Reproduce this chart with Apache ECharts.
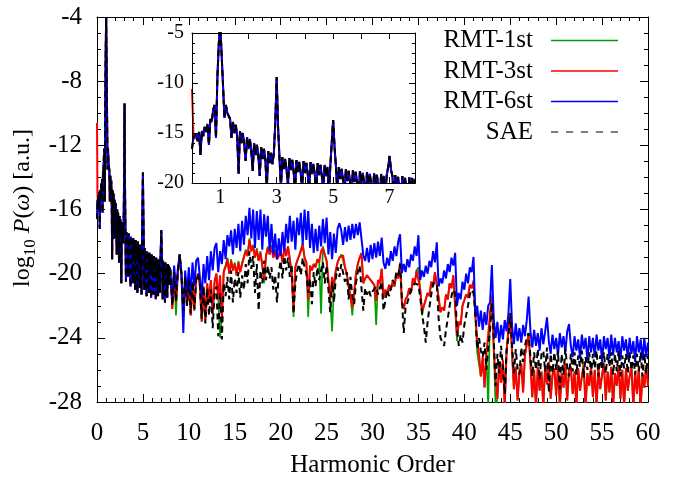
<!DOCTYPE html>
<html><head><meta charset="utf-8">
<script src="https://cdn.jsdelivr.net/npm/echarts@6/dist/echarts.min.js"></script>
<style>html,body{margin:0;padding:0;background:#fff}#c{width:678px;height:483px}</style>
</head><body><div id="c"></div>
<script>
const FONT = "'Liberation Serif','Times New Roman',serif";
const seriesNames = ['RMT-1st', 'RMT-3st', 'RMT-6st', 'SAE'];
const seriesColors = ['#00a000', '#ff0000', '#0000ff', '#000000'];
const yTitle = '{n|log}{s|10}{n| }{i|P}{n|(}{i|ω}{n|) [a.u.]}';

// Low harmonic orders 0 .. 7.9 (step 0.05): curves overlap for all calculations
const lowOrderAll = [
-16.6,-15.4,-15.6,-15.1,-15.8,-14.9,-17.2,-14.8,-15.3,-14.4,
-14.9,-14.1,-16.2,-13.6,-13.9,-12.7,-12.2,-15.5,-9.4,-6.0,
-4.0,-7.2,-10.3,-13.5,-12.2,-13.0,-12.9,-13.6,-15.5,
-13.9,-15.0,-14.2,-15.3,-19.1,
-14.8,-16.0,-15.0,-16.2,-17.8,
-15.4,-16.6,-15.6,-16.8,-18.8,
-16.0,-17.2,-16.2,-17.3,-19.3,
-16.4,-17.6,-16.6,-17.7,-20.6,
-16.8,-18.0,-17.0,-18.1,-17.0,
-14.0,-9.4,-14.5,-17.5,-20.5,
-17.4,-18.6,-17.6,-18.7,-20.2,
-17.5,-18.7,-17.7,-18.8,-20.8,
-17.7,-18.9,-17.9,-19.0,-20.6,
-17.8,-19.0,-18.0,-19.1,-21.0,
-17.9,-19.1,-18.1,-19.2,-21.2,
-18.0,-19.2,-18.2,-19.3,-20.9,
-18.2,-19.3,-18.4,-21.3,-18.3,
-16.0,-13.7,-16.4,-18.4,-21.0,
-18.4,-19.6,-18.6,-19.7,-21.4,
-18.6,-19.8,-18.8,-19.9,-21.2,
-18.7,-19.9,-18.9,-20.0,-21.5,
-18.8,-20.0,-19.0,-20.1,-21.3,
-18.9,-20.1,-19.1,-20.2,-21.6,
-19.0,-20.2,-19.2,-20.3,-21.4,
-19.1,-20.2,-19.3,-21.2,-19.2,
-18.4,-17.3,-18.7,-19.3,-21.6,
-19.2,-20.4,-19.4,-20.5,-21.8,
-19.3,-20.5,-19.5,-20.6,-21.5,
-19.4,-20.6,-19.5,-20.7,-19.6
];
// RMT-3st differs only at the very start
const lowOrderRMT3Start = [-10.6, -15.0];

// Harmonic orders 8.0 .. 60.0 (step 0.2)
const tailRMT1 = [
-19.8,-22.2,-19.9,-22.6,-20.0,-18.8,-20.1,-22.5,-20.2,-22.0,
-20.4,-22.6,-20.5,-22.3,-20.4,-20.0,-20.7,-23.0,-20.8,-22.9,
-20.6,-21.8,-20.4,-22.5,-20.5,-20.0,-21.6,-24.0,-22.8,-19.8,
-19.5,-19.0,-20.0,-19.1,-19.8,-19.3,-20.1,-19.2,-19.9,-19.3,
-19.3,-18.5,-18.9,-17.8,-18.6,-18.2,-19.0,-18.4,-19.2,-18.6,
-19.5,-20.6,-18.9,-18.3,-18.8,-18.2,-19.0,-18.5,-19.1,-18.8,
-18.6,-19.3,-18.4,-18.9,-18.3,-19.1,-20.0,-22.7,-19.6,-19.2,
-18.9,-18.5,-18.1,-19.0,-19.3,-22.7,-19.5,-19.8,-19.4,-19.6,
-19.1,-19.3,-22.5,-18.3,-18.8,-19.2,-20.4,-21.6,-23.6,-20.8,
-19.8,-19.3,-19.0,-18.8,-18.75,-19.6,-20.0,-20.8,-21.4,-22.6,
-21.2,-20.0,-19.4,-19.0,-18.7,-20.6,-20.3,-20.1,-20.2,-20.4,
-20.3,-20.7,-23.2,-20.4,-20.6,-19.7,-21.5,-21.0,-21.3,-20.7,
-21.0,-20.5,-20.8,-20.0,-20.3,-19.3,-21.8,-22.2,-21.6,-21.4,
-20.9,-21.2,-20.3,-20.6,-19.8,-19.6,-21.0,-22.6,-22.0,-22.1,
-21.2,-21.4,-20.5,-20.8,-19.9,-19.8,-21.5,-22.4,-22.1,-22.3,
-21.3,-21.6,-20.6,-20.9,-20.1,-20.0,-24.2,-23.0,-23.2,-22.0,
-22.1,-21.3,-21.5,-20.7,-20.9,-20.4,-22.5,-24.9,-25.0,-26.4,
-25.2,-27.1,-25.0,-28.3,-22.5,-21.3,-24.6,-28.3,-27.8,-25.5,
-26.8,-25.4,-28.3,-24.8,-23.5,-22.5,-25.0,-27.2,-25.8,-27.9,
-26.2,-25.6,-27.4,-25.1,-24.4,-23.7,-25.6,-27.7,-26.0,-28.3,
-25.8,-27.3,-26.1,-28.3,-25.7,-26.9,-25.5,-27.8,-26.3,-25.9,
-27.6,-25.7,-28.3,-26.2,-27.1,-25.6,-27.9,-26.0,-25.8,-27.5,
-26.1,-28.3,-25.9,-27.3,-26.4,-25.7,-28.3,-26.2,-27.0,-25.8,
-27.7,-26.0,-28.3,-25.9,-27.2,-26.3,-25.6,-27.9,-26.1,-27.4,
-25.8,-28.3,-26.2,-27.0,-25.7,-27.8,-26.0,-28.3,-25.9,-27.3,
-26.4,-25.8,-28.3,-26.1,-27.5,-25.9,-28.3,-26.3,-27.1,-25.7,
-27.0
];
const tailRMT3 = [
-19.8,-22.2,-19.9,-21.8,-20.0,-18.8,-20.1,-22.5,-20.2,-22.0,
-20.4,-22.6,-20.5,-22.3,-20.4,-20.0,-20.7,-23.0,-20.8,-22.9,
-20.6,-21.8,-20.4,-22.5,-20.5,-20.0,-21.6,-20.1,-22.8,-19.9,
-19.6,-19.1,-20.0,-19.2,-19.8,-19.4,-20.1,-19.3,-19.9,-19.4,
-19.3,-18.6,-18.9,-17.9,-18.6,-18.3,-19.0,-18.5,-19.2,-18.7,
-19.5,-20.4,-18.9,-18.4,-18.8,-18.3,-19.0,-18.6,-19.1,-18.9,
-18.6,-19.3,-18.4,-18.9,-18.3,-19.1,-20.0,-22.3,-19.6,-19.2,
-18.9,-18.6,-18.2,-19.0,-19.3,-21.6,-19.5,-19.8,-19.4,-19.6,
-19.1,-19.3,-18.6,-18.4,-18.8,-19.2,-20.4,-21.6,-20.2,-20.8,
-19.8,-19.3,-19.0,-18.9,-18.85,-19.6,-20.0,-20.8,-21.4,-22.1,
-21.2,-20.0,-19.4,-19.0,-18.75,-20.6,-20.3,-20.1,-20.2,-20.4,
-20.3,-20.7,-21.7,-20.4,-20.6,-19.7,-21.5,-21.0,-21.3,-20.7,
-21.0,-20.5,-20.8,-20.0,-20.3,-19.36,-21.8,-22.2,-21.6,-21.4,
-20.9,-21.2,-20.3,-20.6,-19.8,-19.7,-21.0,-22.3,-22.0,-22.1,
-21.2,-21.4,-20.5,-20.8,-19.9,-19.86,-21.5,-22.4,-22.1,-22.3,
-21.3,-21.6,-20.6,-20.9,-20.1,-20.05,-23.9,-23.0,-23.2,-22.0,
-22.1,-21.3,-21.5,-20.7,-20.9,-20.5,-22.5,-24.2,-25.0,-26.4,
-25.2,-27.1,-25.0,-23.8,-22.5,-21.5,-24.6,-26.5,-27.8,-25.5,
-26.8,-25.4,-28.3,-24.8,-23.5,-22.6,-25.0,-27.2,-25.8,-27.9,
-26.2,-25.6,-27.4,-25.1,-24.4,-23.8,-25.6,-27.7,-26.0,-28.3,
-25.8,-27.3,-26.1,-28.3,-25.7,-26.9,-25.5,-27.8,-26.3,-25.9,
-27.6,-25.7,-28.3,-26.2,-27.1,-25.6,-27.9,-26.0,-25.8,-27.5,
-26.1,-28.3,-25.9,-27.3,-26.4,-25.7,-28.3,-26.2,-27.0,-25.8,
-27.7,-26.0,-28.3,-25.9,-27.2,-26.3,-25.6,-27.9,-26.1,-27.4,
-25.8,-28.3,-26.2,-27.0,-25.7,-27.8,-26.0,-28.3,-25.9,-27.3,
-26.4,-25.8,-28.3,-26.1,-27.5,-25.9,-28.3,-26.3,-27.1,-25.7,
-27.0
];
const tailRMT6 = [
-19.6,-21.6,-19.5,-21.0,-19.7,-18.8,-20.0,-23.7,-19.8,-21.2,
-19.6,-21.4,-19.3,-20.8,-19.2,-19.0,-20.2,-21.5,-19.4,-20.6,
-18.9,-20.4,-18.6,-19.8,-18.4,-18.1,-19.9,-18.6,-19.4,-17.9,
-19.1,-17.6,-18.3,-17.3,-18.8,-17.2,-18.4,-16.9,-18.6,-16.7,
-18.2,-16.4,-17.6,-15.9,-17.8,-16.0,-18.4,-16.1,-17.9,-16.0,
-18.5,-16.3,-17.7,-16.4,-18.6,-16.9,-18.8,-17.5,-19.1,-17.8,
-18.9,-17.4,-18.6,-16.9,-18.1,-16.4,-18.0,-16.7,-18.5,-16.5,
-17.6,-16.2,-18.2,-16.0,-17.9,-16.1,-18.4,-16.9,-18.7,-17.2,
-18.6,-17.0,-18.3,-16.6,-18.1,-16.5,-18.8,-17.4,-19.1,-17.5,
-18.7,-17.2,-16.85,-17.3,-18.2,-17.1,-18.0,-17.0,-17.9,-16.9,
-17.8,-16.9,-17.6,-16.8,-16.8,-18.85,-19.2,-18.4,-19.3,-18.2,
-19.1,-18.1,-19.0,-18.0,-18.9,-17.75,-19.3,-19.7,-19.0,-19.5,
-18.6,-19.2,-18.3,-18.9,-18.0,-17.55,-19.96,-19.4,-19.9,-19.1,
-19.6,-18.8,-19.2,-18.3,-18.9,-17.6,-20.4,-19.8,-20.2,-19.5,
-20.0,-19.2,-19.6,-18.6,-19.3,-18.05,-20.8,-20.3,-20.6,-19.8,
-20.3,-19.4,-19.9,-19.0,-19.5,-18.7,-22.0,-21.2,-21.6,-20.5,
-21.0,-20.0,-20.6,-19.6,-19.9,-18.96,-22.7,-22.0,-23.3,-22.3,
-23.5,-22.4,-23.2,-22.0,-21.8,-19.46,-22.8,-24.0,-23.0,-24.3,
-23.2,-24.1,-22.9,-23.6,-22.5,-20.33,-23.3,-24.4,-23.1,-24.2,
-23.4,-24.3,-23.2,-23.9,-22.9,-21.43,-23.6,-24.6,-23.5,-24.5,
-23.7,-24.8,-23.4,-24.4,-23.6,-22.72,-24.2,-25.0,-23.8,-24.7,
-24.0,-25.1,-23.7,-24.6,-23.9,-24.9,-23.6,-23.14,-24.5,-25.2,
-23.9,-24.8,-24.1,-25.3,-23.8,-24.7,-24.0,-25.4,-23.9,-24.9,
-24.0,-25.2,-23.8,-24.8,-24.1,-25.5,-23.9,-24.7,-24.0,-25.3,
-23.8,-25.1,-24.0,-24.9,-24.2,-25.4,-23.9,-24.8,-24.1,-25.3,
-24.0,-25.0,-24.2,-25.5,-23.9,-24.9,-24.1,-25.4,-24.0,-25.2,
-24.3
];
const tailSAE = [
-19.8,-22.0,-19.9,-21.7,-20.0,-18.8,-20.1,-22.3,-20.2,-22.0,
-20.4,-22.5,-20.5,-22.2,-20.4,-20.0,-20.7,-22.8,-20.8,-23.1,
-20.9,-22.6,-21.0,-23.4,-21.2,-20.8,-23.9,-21.2,-24.1,-20.6,
-21.4,-20.2,-21.6,-19.8,-21.8,-20.3,-21.2,-19.9,-21.5,-20.1,
-21.0,-19.4,-20.6,-18.6,-19.7,-18.9,-21.2,-19.4,-22.3,-19.8,
-20.6,-19.2,-20.4,-19.5,-20.3,-19.6,-21.0,-20.1,-21.8,-19.9,
-19.2,-20.3,-18.9,-19.8,-19.0,-20.2,-19.4,-22.5,-20.6,-19.8,
-19.4,-20.1,-19.0,-19.6,-20.0,-21.2,-20.3,-21.9,-19.9,-20.8,
-19.6,-20.4,-19.8,-19.3,-20.6,-19.5,-21.0,-22.4,-20.5,-21.8,
-20.3,-19.6,-20.2,-19.4,-19.3,-20.5,-19.9,-21.6,-20.2,-21.4,
-21.9,-20.6,-19.9,-19.5,-19.4,-22.3,-20.9,-21.3,-21.0,-21.4,
-21.1,-21.2,-20.8,-21.3,-20.9,-20.5,-22.3,-21.7,-21.0,-21.4,
-20.9,-20.4,-20.6,-19.9,-20.1,-19.4,-21.5,-23.7,-22.1,-21.8,
-21.4,-21.0,-20.8,-20.6,-20.5,-20.7,-21.5,-22.5,-23.3,-24.3,
-23.0,-22.1,-21.3,-20.6,-20.5,-20.6,-22.8,-24.0,-23.9,-24.5,
-23.5,-22.8,-22.0,-21.4,-21.0,-21.2,-23.4,-24.5,-23.8,-24.3,
-23.2,-22.6,-22.0,-21.3,-21.0,-21.2,-22.5,-24.7,-24.0,-24.8,
-25.2,-24.3,-26.0,-24.6,-23.5,-21.8,-24.0,-27.0,-25.0,-26.2,
-24.5,-25.8,-27.5,-24.8,-24.0,-22.45,-24.5,-26.2,-24.7,-25.9,
-26.3,-24.6,-25.5,-24.5,-24.0,-23.7,-25.2,-26.4,-24.9,-26.0,
-24.7,-26.6,-25.0,-24.8,-26.1,-24.6,-27.4,-25.0,-26.2,-24.9,
-26.0,-24.8,-27.2,-25.0,-26.3,-24.7,-25.8,-26.4,-25.0,-26.1,
-24.9,-26.3,-25.1,-25.8,-24.8,-26.5,-25.2,-26.0,-24.9,-26.3,
-25.0,-25.9,-24.8,-26.4,-25.1,-26.0,-24.9,-26.2,-25.0,-25.8,
-24.9,-26.3,-25.0,-26.1,-24.8,-26.4,-25.1,-25.9,-25.0,-26.2,
-24.9,-26.0,-25.1,-26.3,-25.0,-26.1,-24.9,-26.4,-25.0,-26.2,
-25.1
];

// sampling grids of the spectra
const lowX = lowOrderAll.map((_, i) => +(i * 0.05).toFixed(2));
const tailX = tailSAE.map((_, i) => +(8 + i * 0.2).toFixed(1));
const lowRMT3 = lowOrderRMT3Start.concat(lowOrderAll.slice(lowOrderRMT3Start.length));
const lows = [lowOrderAll, lowRMT3, lowOrderAll, lowOrderAll];
const tails = [tailRMT1, tailRMT3, tailRMT6, tailSAE];

function toPairs(ys, xs) { return ys.map((y, i) => [xs[i], y]); }

const chart = echarts.init(document.getElementById('c'), null, {renderer: 'canvas'});

const widths = [1.7, 2.0, 2.0, 2.0];
function lineStyleFor(i) {
  const s = {color: seriesColors[i], width: widths[i]};
  if (i === 3) s.type = [6, 4];
  return s;
}

const series = [];
for (let i = 0; i < 4; i++) {
  series.push({
    name: seriesNames[i], type: 'line', xAxisIndex: 0, yAxisIndex: 0,
    data: toPairs(lows[i], lowX).concat(toPairs(tails[i], tailX)),
    showSymbol: false, symbol: 'none', symbolKeepAspect: false, clip: true, z: 2 + i,
    lineStyle: lineStyleFor(i), itemStyle: {color: seriesColors[i]},
    emphasis: {disabled: true}
  });
}
for (let i = 0; i < 4; i++) {
  series.push({
    name: seriesNames[i], type: 'line', xAxisIndex: 2, yAxisIndex: 2,
    data: toPairs(lows[i], lowX),
    showSymbol: false, symbol: 'none', symbolKeepAspect: false, clip: true, z: 12 + i,
    lineStyle: lineStyleFor(i), itemStyle: {color: seriesColors[i]},
    emphasis: {disabled: true}
  });
}

const axLine = {show: true, onZero: false, lineStyle: {color: '#000', width: 1}};
function valAxis(o) {
  return Object.assign({
    type: 'value', axisLine: axLine, splitLine: {show: false},
    axisTick: {show: true, inside: true, length: 8, lineStyle: {color: '#000'}},
  }, o);
}

const dashIcon = 'path://M0,0H7V1H0Z M14.5,0H21.5V1H14.5Z M29,0H36V1H29Z M43.5,0H50.5V1H43.5Z M58,0H65V1H58Z';
const legendItems = seriesNames.map((name, i) => ({
  name: name,
  icon: i === 3 ? dashIcon : 'rect',
  itemStyle: {color: seriesColors[i], opacity: 1, borderWidth: 0}
}));

const option = {
  animation: false,
  backgroundColor: '#fff',
  textStyle: {fontFamily: FONT},
  grid: [
    {left: 97, right: 30, top: 17, bottom: 68},
    {left: 192, top: 33, width: 223, height: 150, show: true, backgroundColor: '#fff', borderWidth: 0, z: 10}
  ],
  legend: {
    data: legendItems, orient: 'vertical', right: 60, top: 28, align: 'right',
    itemWidth: 67, itemHeight: 1.4, itemGap: 5.5, padding: 0, selectedMode: false,
    textStyle: {fontFamily: FONT, fontSize: 25, color: '#000', width: 95, align: 'right', padding: [0, 13, 0, 0]}
  },
  graphic: [{
    type: 'text', x: 25, y: 208, rotation: Math.PI / 2, z: 100,
    style: {
      text: yTitle, align: 'center', verticalAlign: 'middle', fill: '#000',
      font: '24px ' + FONT,
      rich: {
        n: {fontFamily: FONT, fontSize: 24, fill: '#000', verticalAlign: 'bottom', padding: [0, 0, 5, 0]},
        i: {fontFamily: FONT, fontSize: 24, fill: '#000', fontStyle: 'italic', verticalAlign: 'bottom', padding: [0, 0, 5, 0]},
        s: {fontFamily: FONT, fontSize: 17, fill: '#000', verticalAlign: 'bottom'}
      }
    }
  }],
  xAxis: [
    valAxis({gridIndex: 0, min: 0, max: 60, interval: 5, position: 'bottom',
      minorTick: {show: true, splitNumber: 5, length: 4, lineStyle: {color: '#000'}},
      axisLabel: {fontFamily: FONT, fontSize: 25, color: '#000', margin: 19},
      name: 'Harmonic Order', nameLocation: 'middle', nameGap: 51,
      nameTextStyle: {fontFamily: FONT, fontSize: 25, color: '#000'}}),
    valAxis({gridIndex: 0, min: 0, max: 60, interval: 5, position: 'top',
      minorTick: {show: true, splitNumber: 5, length: 4, lineStyle: {color: '#000'}},
      axisLabel: {show: false}}),
    valAxis({gridIndex: 1, min: 0, max: 7.9, interval: 1, position: 'bottom', z: 20,
      axisTick: {show: true, inside: true, length: 6, lineStyle: {color: '#000'}},
      axisLabel: {fontFamily: FONT, fontSize: 20, color: '#000', margin: 5,
        formatter: v => (Math.abs(v % 2 - 1) < 1e-9 ? String(v) : '')}}),
    valAxis({gridIndex: 1, min: 0, max: 7.9, interval: 1, position: 'top', z: 20,
      axisTick: {show: true, inside: true, length: 6, lineStyle: {color: '#000'}},
      axisLabel: {show: false}})
  ],
  yAxis: [
    valAxis({gridIndex: 0, min: -28, max: -4, interval: 4, position: 'left',
      minorTick: {show: true, splitNumber: 4, length: 4, lineStyle: {color: '#000'}},
      axisLabel: {fontFamily: FONT, fontSize: 25, color: '#000', margin: 15}}),
    valAxis({gridIndex: 0, min: -28, max: -4, interval: 4, position: 'right',
      minorTick: {show: true, splitNumber: 4, length: 4, lineStyle: {color: '#000'}},
      axisLabel: {show: false}}),
    valAxis({gridIndex: 1, min: -20, max: -5, interval: 5, position: 'left', z: 20,
      axisTick: {show: true, inside: true, length: 6, lineStyle: {color: '#000'}},
      minorTick: {show: true, splitNumber: 5, length: 3, lineStyle: {color: '#000'}},
      axisLabel: {fontFamily: FONT, fontSize: 20, color: '#000', margin: 8}}),
    valAxis({gridIndex: 1, min: -20, max: -5, interval: 5, position: 'right', z: 20,
      axisTick: {show: true, inside: true, length: 6, lineStyle: {color: '#000'}},
      minorTick: {show: true, splitNumber: 5, length: 3, lineStyle: {color: '#000'}},
      axisLabel: {show: false}})
  ],
  series: series
};
chart.setOption(option);
</script>
</body></html>
